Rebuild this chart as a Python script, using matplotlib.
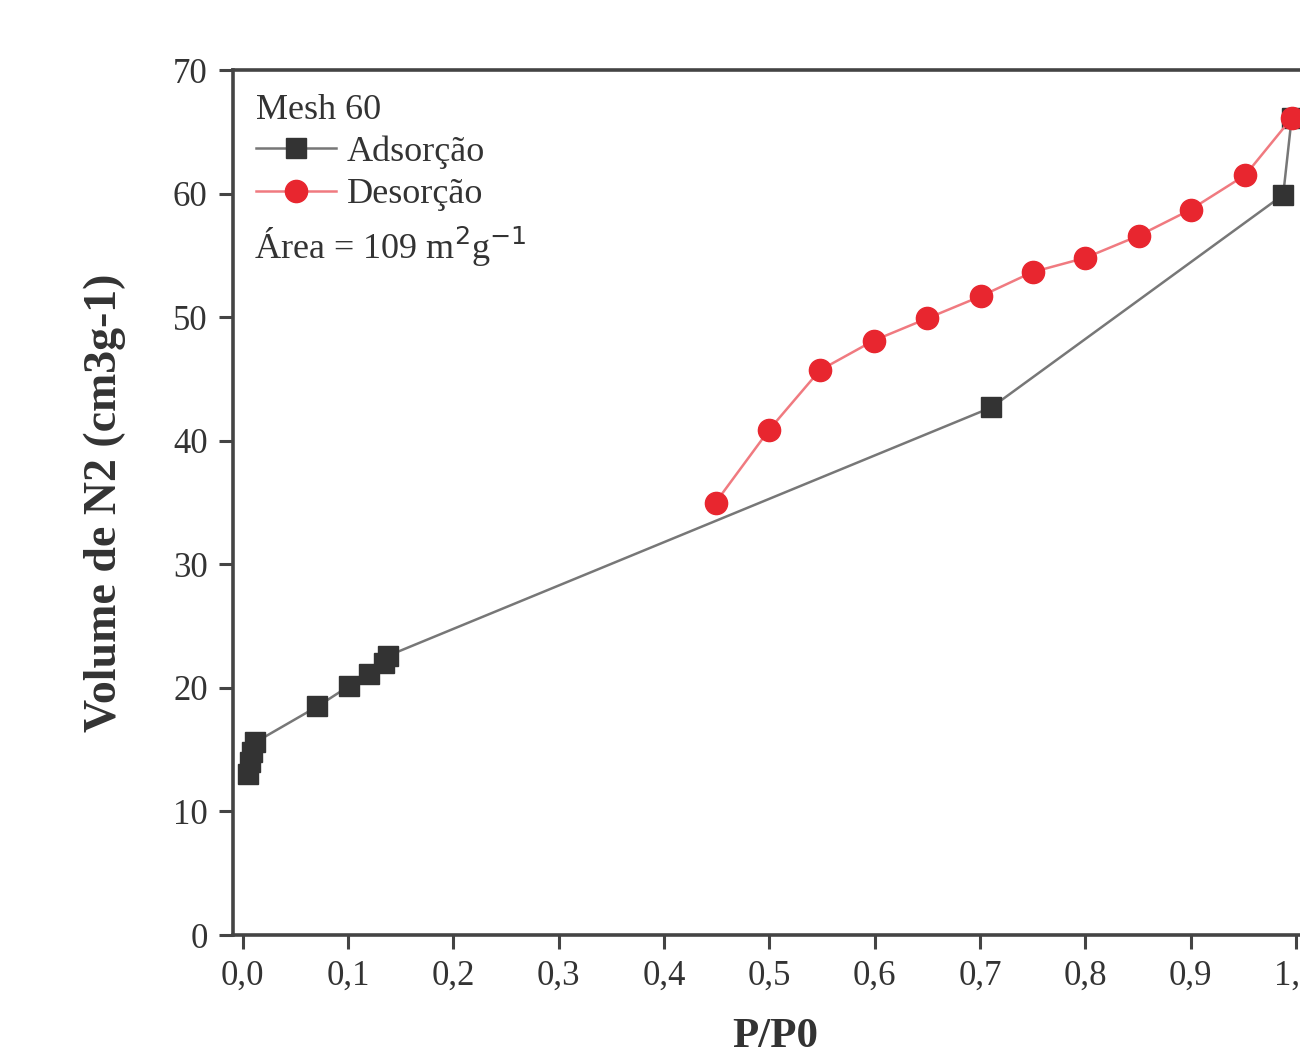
import matplotlib
matplotlib.use("Agg")
import matplotlib.pyplot as plt
from matplotlib.ticker import FuncFormatter, MultipleLocator

plt.rcParams['font.family'] = ['Liberation Serif', 'DejaVu Serif']

# Adsorption branch
ads_x = [0.005, 0.007, 0.009, 0.012, 0.071, 0.101, 0.120, 0.134, 0.138, 0.711, 0.988, 0.996]
ads_y = [13.0, 14.0, 14.8, 15.6, 18.5, 20.15, 21.1, 22.0, 22.6, 42.7, 59.9, 66.1]

# Desorption branch
des_x = [0.996, 0.952, 0.900, 0.851, 0.800, 0.750, 0.701, 0.650, 0.599, 0.548, 0.500, 0.449]
des_y = [66.1, 61.5, 58.7, 56.6, 54.8, 53.65, 51.7, 49.9, 48.1, 45.7, 40.9, 35.0]

legend_title = "Mesh 60"
ads_label = "Adsorção"
des_label = "Desorção"
area_text = "Área = 109 m$^2$g$^{-1}$"
xlabel = "P/P0"
ylabel = "Volume de N2 (cm3g-1)"

fig = plt.figure(figsize=(13, 10.5), dpi=100)
ax = fig.add_axes([0.179, 0.1095, 0.834, 0.8238])

ax.plot(ads_x, ads_y, color='#777777', lw=1.8, marker='s', markersize=15,
        markerfacecolor='#333333', markeredgecolor='#333333', label=ads_label, zorder=3)
ax.plot(des_x, des_y, color='#f07a80', lw=1.8, marker='o', markersize=16,
        markerfacecolor='#e8262f', markeredgecolor='#e8262f', label=des_label, zorder=4)

ax.set_xlim(-0.0095, 1.02)
ax.set_ylim(0, 70)
ax.xaxis.set_major_locator(MultipleLocator(0.1))
ax.yaxis.set_major_locator(MultipleLocator(10))
ax.xaxis.set_major_formatter(FuncFormatter(lambda v, p: f"{v:.1f}".replace('.', ',')))
ax.yaxis.set_major_formatter(FuncFormatter(lambda v, p: f"{v:.0f}"))

for s in ax.spines.values():
    s.set_linewidth(2.6)
    s.set_color('#444444')
ax.tick_params(axis='both', direction='out', length=10, width=2.2, color='#444444',
               labelsize=25, labelcolor='#333333', pad=8)

ax.set_ylabel(ylabel, fontsize=33, fontweight='bold', color='#333333', labelpad=34)
ax.set_xlabel(xlabel, fontsize=31, fontweight='bold', color='#333333', labelpad=18)

leg = ax.legend(loc='upper left', title=legend_title, frameon=False, fontsize=26,
                title_fontsize=26, alignment='left', handlelength=2.2,
                handletextpad=0.3, labelspacing=0.25, borderaxespad=0.25,
                bbox_to_anchor=(0.0, 1.0))
for t in leg.get_texts():
    t.set_color('#333333')
leg.get_title().set_color('#333333')

ax.text(0.020, 0.795, area_text, transform=ax.transAxes, fontsize=26,
        color='#333333', ha='left', va='center')

fig.savefig("out.png", dpi=100)
